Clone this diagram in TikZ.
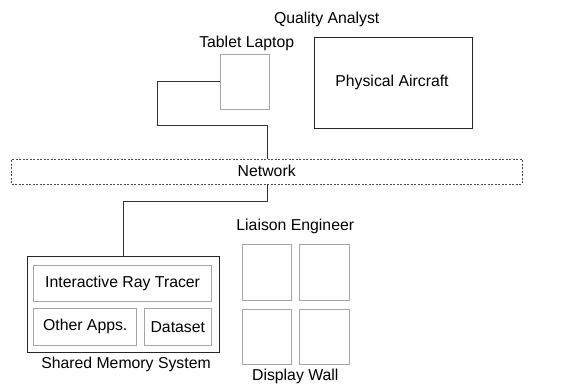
\documentclass[tikz,border=0pt]{standalone}
\usepackage{fontspec}
\setmainfont{Liberation Sans}
\begin{document}
\begin{tikzpicture}[x=1pt,y=-1pt,
  box/.style={draw=black!85,line width=0.9pt},
  gbox/.style={draw=black!35,line width=0.9pt},
  net/.style={draw=black!70,dashed,dash pattern=on 2pt off 1.5pt,line width=0.7pt},
  wire/.style={draw=black!80,line width=0.9pt},
  lbl/.style={font=\fontsize{15.8}{18}\selectfont,inner sep=0pt}]
\useasboundingbox (0,0) rectangle (573,387);
% Tablet
\node[gbox,minimum width=49pt,minimum height=54.7pt,inner sep=0pt,anchor=north west] (tab) at (220.3,54.3) {};
\node[lbl] (tabl) at (246.7,43.3) {Tablet Laptop};
% Aircraft
\node[box,minimum width=158pt,minimum height=90.7pt,inner sep=0pt,anchor=north west] (air) at (314,37.3) {};
\node[lbl] (airl) at (392,82) {Physical Aircraft};
\node[lbl] (qa) at (326.7,19.3) {Quality Analyst};
% Network
\node[net,minimum width=510.4pt,minimum height=24.7pt,inner sep=0pt,anchor=north west] (net) at (11.3,159) {};
\node[lbl] (netl) at (266.7,171) {Network};
% Shared memory
\node[box,minimum width=192.3pt,minimum height=96pt,inner sep=0pt,anchor=north west] (smp) at (26.7,256) {};
\node[gbox,minimum width=177.7pt,minimum height=36pt,inner sep=0pt,anchor=north west] (irt) at (33.3,265.3) {};
\node[lbl] at (irt.center) {Interactive Ray Tracer};
\node[gbox,minimum width=103pt,minimum height=36.7pt,inner sep=0pt,anchor=north west] (oth) at (33.3,308) {};
\node[lbl] at (oth.center) {Other Apps.};
\node[gbox,minimum width=67.3pt,minimum height=36.7pt,inner sep=0pt,anchor=north west] (dat) at (143.7,308) {};
\node[lbl] at (dat.center) {Dataset};
\node[lbl] (smpl) at (126,364) {Shared Memory System};
% Display wall
\foreach \n/\x/\y in {a/241.7/244.3,b/299/244.3,c/241.7/308.7,d/299/308.7}
  \node[gbox,minimum width=49.6pt,minimum height=55.6pt,inner sep=0pt,anchor=north west] (w\n) at (\x,\y) {};
\node[lbl] (le) at (295.3,226.7) {Liaison Engineer};
\node[lbl] (dw) at (295.3,376.7) {Display Wall};
% Wires
\coordinate (t1) at (157.3,81.3);
\coordinate (t2) at (157.3,125.7);
\coordinate (t3) at (267,125.7);
\draw[wire] (tab.west |- t1) -- (t1) -- (t2) -- (t3) -- (t3 |- net.north);
\coordinate (b1) at (267,201.7);
\coordinate (b2) at (123.3,201.7);
\draw[wire] (b1 |- net.south) -- (b1) -- (b2) -- (b2 |- smp.north);
\end{tikzpicture}
\end{document}
